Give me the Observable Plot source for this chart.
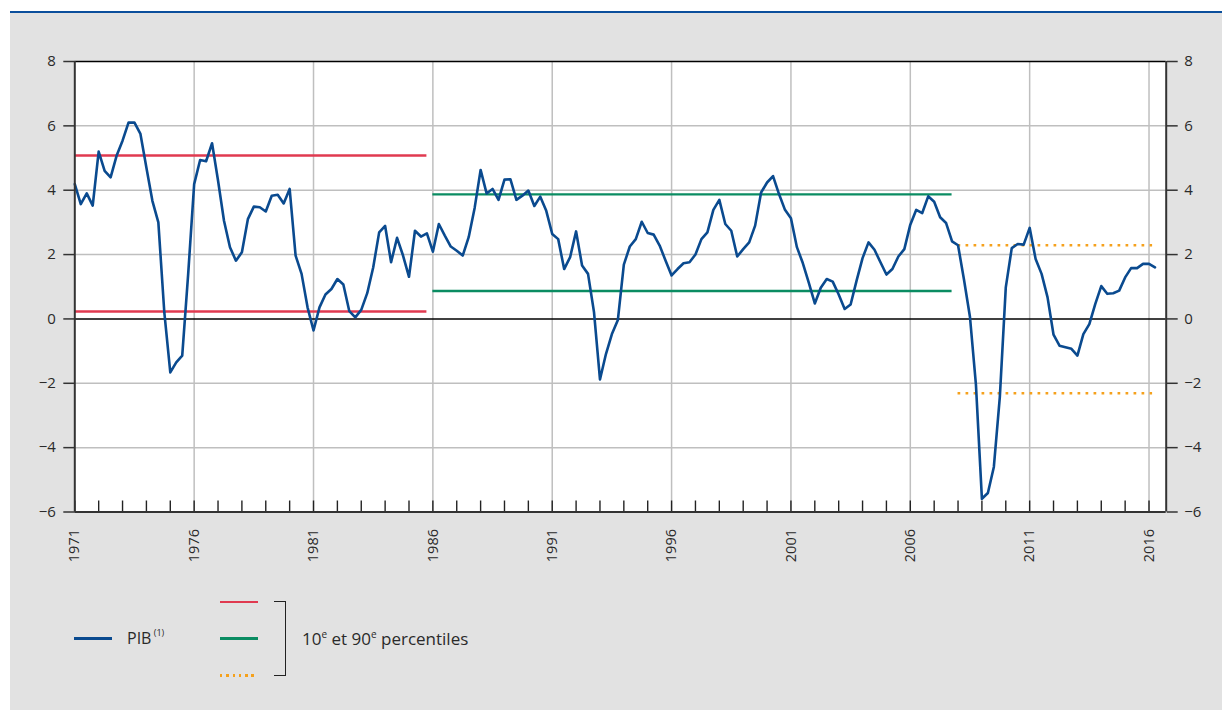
<!DOCTYPE html>
<html><head><meta charset="utf-8">
<script src="https://cdn.jsdelivr.net/npm/d3@7"></script>
<script src="https://cdn.jsdelivr.net/npm/@observablehq/plot@0.6"></script>
<style>
body{margin:0;background:#fff;width:1222px;height:713px;position:relative;overflow:hidden;font-family:"Open Sans",sans-serif;color:#2a2a2a}
#topline{position:absolute;left:10px;top:11px;width:1212px;height:2px;background:#0b4f9c}
#panel{position:absolute;left:10px;top:13px;width:1212px;height:697px;background:#e2e2e2}
#chart{position:absolute;left:10px;top:13px}
.sw{position:absolute;width:38px;height:2.5px}
.lt{position:absolute;font-size:16px;line-height:16px;white-space:nowrap;color:#2a2a2a}
.sup{font-size:10px;position:relative;top:-7px}
#bracket{position:absolute;left:274px;top:601px;width:11px;height:73px;border:1.5px solid #222;border-left:none}
</style></head>
<body>
<div id="topline"></div>
<div id="panel"></div>
<div id="chart"></div>
<div class="sw" style="left:74px;top:637px;background:#0a4a8f"></div>
<div class="lt" style="left:127px;top:630px">PIB<span class="sup" style="font-size:9px;top:-8px"> (1)</span></div>
<div class="sw" style="left:220px;top:600.5px;background:#e03a50"></div>
<div class="sw" style="left:220px;top:637px;background:#0a8c62"></div>
<div class="sw" style="left:220px;top:674px;background:repeating-linear-gradient(to right,#f5a11c 0 2.5px,transparent 2.5px 6.3px)"></div>
<div id="bracket"></div>
<div class="lt" style="left:302px;top:630px;font-size:17px;line-height:17px">10<span class="sup">e</span> et 90<span class="sup">e</span> percentiles</div>
<script>
// Quarterly GDP growth (%), first quarter 1971 onwards
const startYear = 1971;
const pib1971_1985 = [4.19,3.57,3.9,3.52, 5.2,4.6,4.4,5.07, 5.54,6.1,6.1,5.75, 4.7,3.67,3.0,0.2,
  -1.66,-1.35,-1.14,1.4, 4.19,4.94,4.9,5.46, 4.3,3.05,2.23,1.81, 2.07,3.1,3.49,3.47,
  3.34,3.83,3.86,3.59, 4.04,1.97,1.4,0.36, -0.36,0.36,0.76,0.93, 1.24,1.07,0.24,0.05,
  0.28,0.8,1.6,2.69, 2.89,1.76,2.52,1.97, 1.31,2.74,2.56,2.66];
const pib1986_2007 = [2.09,2.95,2.59,2.25, 2.12,1.97,2.54,3.45, 4.63,3.9,4.04,3.7, 4.33,4.34,3.7,3.83,
  3.99,3.51,3.8,3.36, 2.64,2.48,1.55,1.92, 2.72,1.66,1.4,0.21, -1.88,-1.09,-0.47,-0.03,
  1.69,2.25,2.48,3.02, 2.67,2.62,2.28,1.81, 1.35,1.55,1.73,1.76, 2.0,2.48,2.69,3.39,
  3.7,2.95,2.74,1.94, 2.17,2.38,2.9,3.93, 4.24,4.44,3.88,3.39, 3.13,2.23,1.73,1.12,
  0.48,0.97,1.24,1.16, 0.76,0.31,0.45,1.19, 1.89,2.38,2.15,1.76, 1.38,1.55,1.94,2.17,
  2.93,3.39,3.29,3.81, 3.64,3.16,2.98,2.41];
const pib2008_2016 = [2.29,1.22,0.06,-2.05, -5.59,-5.41,-4.6,-2.43, 0.98,2.2,2.33,2.31, 2.83,1.86,1.4,0.67,
  -0.49,-0.83,-0.88,-0.93, -1.14,-0.47,-0.16,0.47, 1.02,0.78,0.8,0.88, 1.29,1.58,1.58,1.71,
  1.71,1.6];

// 10th and 90th percentiles per period
const periodStart = [1971, 1986, 2008];
const periodEnd = [1985.75, 2007.75, 2016.15];
const p10 = [0.23, 0.87, -2.31];
const p90 = [5.08, 3.87, 2.29];

const yTicks = [-6,-4,-2,0,2,4,6,8];
const yearLabels = [1971,1976,1981,1986,1991,1996,2001,2006,2011,2016];
const yearTicks = d3.range(1971, 2017);
const xDomain = [1971, 2016.72];

const pib = [...pib1971_1985, ...pib1986_2007, ...pib2008_2016];
const series = pib.map((v,i)=>({date: startYear + i/4, value: v}));
const periods = periodStart.map((s,i)=>({start:s, end:periodEnd[i], p10:p10[i], p90:p90[i]}));
const colors = ["#e03a50","#0a8c62","#f5a11c"];

const W = 1212, H = 560, mT = 48, mB = 61.5, mL = 64.3, mR = 56.3;
const plotH = H - mT - mB;
const fmt = d => d < 0 ? "\u2212" + Math.abs(d) : String(d);

const bandMarks = [];
periods.forEach((p,i)=>{
  const dotted = i === 2;
  for (const key of ["p10","p90"]) {
    bandMarks.push(Plot.ruleY([p], {y:key, x1:"start", x2:"end", stroke:colors[i],
      strokeWidth: dotted ? 2.7 : 2.4, strokeDasharray: dotted ? "2.7,5.3" : null}));
  }
});

const chart = Plot.plot({
  width: W, height: H, marginTop: mT, marginBottom: mB, marginLeft: mL, marginRight: mR,
  style: {background:"transparent", fontFamily:"'Open Sans', sans-serif", fontSize:"14.5px", color:"#2a2a2a"},
  x: {domain: xDomain},
  y: {domain: [-6, 8]},
  marks: [
    Plot.frame({fill:"white", stroke:null}),
    Plot.ruleY(yTicks.filter(d=>d!==0 && d!==-6 && d!==8), {stroke:"#bfbfbf", strokeWidth:1.5}),
    Plot.ruleX(yearLabels.slice(1), {stroke:"#bfbfbf", strokeWidth:1.5}),
    Plot.ruleX(yearTicks, {stroke:"#222", strokeWidth:1.4, insetTop: plotH - 11}),
    Plot.ruleY([0], {stroke:"#000", strokeWidth:1.6}),
    ...bandMarks,
    Plot.line(series, {x:"date", y:"value", stroke:"#0a4a8f", strokeWidth:2.6, strokeLinejoin:"round"}),
    Plot.ruleY([8], {stroke:"#000", strokeWidth:1.5}),
    Plot.ruleY([-6], {stroke:"#333", strokeWidth:2}),
    Plot.ruleX(xDomain, {stroke:"#333", strokeWidth:2}),
    Plot.axisY(yTicks, {anchor:"left", tickSize:11, tickPadding:8, tickFormat:fmt, label:null, stroke:"#333", strokeWidth:1.5, fontSize:15}),
    Plot.axisY(yTicks, {anchor:"right", tickSize:11, tickPadding:7, tickFormat:fmt, label:null, stroke:"#333", strokeWidth:1.5, fontSize:15}),
    Plot.axisX(yearLabels, {anchor:"bottom", tickSize:0, tickPadding:17, tickRotate:-90, tickFormat:d=>String(d), label:null, fontSize:14.5})
  ]
});
document.getElementById("chart").appendChild(chart);
</script>
</body></html>
